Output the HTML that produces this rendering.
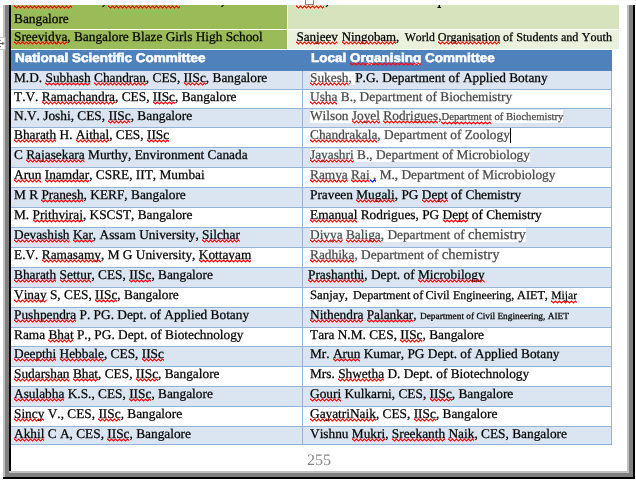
<!DOCTYPE html>
<html><head><meta charset="utf-8"><title>doc</title>
<style>
html,body{margin:0;padding:0;}
body{width:636px;height:483px;background:#fff;overflow:hidden;position:relative;font-family:"Liberation Serif",serif;font-size:13.33px;color:#000;font-kerning:none;font-variant-ligatures:none;text-rendering:geometricPrecision;}
.a{position:absolute;}
#tx{position:absolute;left:0;top:0;width:636px;height:483px;will-change:transform;}
.t{position:absolute;white-space:pre;line-height:16px;height:16px;-webkit-text-stroke:0.25px currentColor;}
.s{position:relative;display:inline-block;line-height:16px;}
.q{position:absolute;left:0;top:12px;width:100%;height:4px;overflow:hidden;}
.w{display:inline-block;line-height:16px;vertical-align:baseline;}
.gq .q{top:12px;}
.g{color:#4a4a4a;}
.hl{background:linear-gradient(#fff,#fff) no-repeat 0 2.2px/100% 13.6px;}
.hl .big{background:linear-gradient(#fff,#fff) no-repeat 0 1.8px/100% 14.8px;}
.hl2{background:none;}
.hl9{background:linear-gradient(#fff,#fff) no-repeat 0 0.9px/100% 14.6px;}
.sm{font-size:10.67px;}
.sm2{font-size:9.33px;}
.big{font-size:14.67px;}
.c9{font-size:12.05px;margin-left:1.5px;}
.cond{letter-spacing:-0.49px;}
.cur{display:inline-block;width:1px;height:15px;background:#000;vertical-align:-4px;}
.h{position:absolute;white-space:pre;font-family:"Liberation Sans",sans-serif;font-weight:bold;color:#fff;font-size:12.6px;line-height:16px;-webkit-text-stroke:0.55px #fff;transform:scaleX(1.0714);transform-origin:0 0;}
</style></head><body>
<svg width="0" height="0" style="position:absolute"><defs>
<pattern id="zr" width="4" height="4" patternUnits="userSpaceOnUse"><path d="M0,0.5h1v1.5h-1z M1,1.2h1v1.5h-1z M2,1.9h1v1.5h-1z M3,1.2h1v1.5h-1z" fill="#f00"/></pattern>
<pattern id="zb" width="4" height="4" patternUnits="userSpaceOnUse"><path d="M0,0.5h1v1.5h-1z M1,1.2h1v1.5h-1z M2,1.9h1v1.5h-1z M3,1.2h1v1.5h-1z" fill="#00f"/></pattern>
</defs></svg>
<div class="a" style="left:3px;top:5px;width:2px;height:473px;background:#c0c0c0"></div>
<div class="a" style="left:5px;top:5px;width:4px;height:472px;background:#808080"></div>
<div class="a" style="left:9px;top:5px;width:2px;height:466px;background:#000"></div>
<div class="a" style="left:627px;top:5px;width:2px;height:468px;background:#c0c0c0"></div>
<div class="a" style="left:629px;top:5px;width:4px;height:472px;background:#808080"></div>
<div class="a" style="left:633px;top:5px;width:2px;height:474px;background:#000"></div>
<div class="a" style="left:9px;top:471px;width:620px;height:2px;background:#c0c0c0"></div>
<div class="a" style="left:5px;top:473px;width:628px;height:4px;background:#808080"></div>
<div class="a" style="left:3px;top:477px;width:632px;height:2px;background:#000"></div>
<svg class="a" style="left:0;top:36px;width:7px;height:15px" viewBox="0 0 7 15"><rect x="-1" y="1.5" width="6" height="12" fill="#fff" stroke="#c4c4c4" stroke-width="1"/><path d="M0,7.5H3.6M2.4,6L3.9,7.5L2.4,9M0,4.4H0.9M0,10.6H0.9" fill="none" stroke="#444" stroke-width="0.9"/></svg>
<div class="a" style="left:11px;top:5px;width:276px;height:24px;background:#9bbb59"></div>
<div class="a" style="left:288px;top:5px;width:331px;height:24px;background:#d6e3bc"></div>
<div class="a" style="left:11px;top:30px;width:276px;height:19px;background:#9bbb59"></div>
<div class="a" style="left:288px;top:30px;width:331px;height:19px;background:#eaf1dd"></div>
<svg class="a" style="left:14px;top:5px;width:58px;height:4px"><rect width="100%" height="100%" fill="url(#zr)"/></svg>
<svg class="a" style="left:108px;top:5px;width:72px;height:4px"><rect width="100%" height="100%" fill="url(#zr)"/></svg>
<svg class="a" style="left:296px;top:5px;width:28px;height:4px"><rect width="100%" height="100%" fill="url(#zr)"/></svg>
<svg class="a" style="left:0;top:5px;width:636px;height:5px" viewBox="0 5 636 5"><g stroke="#111" stroke-width="1.2" fill="none"><path d="M104.6,5.2L102.4,6.7"/><path d="M223.6,5.2L221.4,6.7"/><path d="M328,5.2L325.8,6.7"/></g><path d="M438.5,5h1.6v2h1v0.9h-3.7v-0.9h1.1z" fill="#111"/></svg>
<div class="a" style="left:305px;top:-1px;width:9px;height:6px;background:#fff;box-sizing:border-box;border:1px solid #888"></div>
<div class="a" style="left:11px;top:50px;width:601px;height:21px;background:#4f81bd"></div>
<div class="a" style="left:11px;top:71px;width:601px;height:18px;background:#dbe5f1"></div>
<div class="a" style="left:11px;top:109px;width:601px;height:18px;background:#dbe5f1"></div>
<div class="a" style="left:11px;top:148px;width:601px;height:19px;background:#dbe5f1"></div>
<div class="a" style="left:11px;top:188px;width:601px;height:19px;background:#dbe5f1"></div>
<div class="a" style="left:11px;top:228px;width:601px;height:19px;background:#dbe5f1"></div>
<div class="a" style="left:11px;top:268px;width:601px;height:19px;background:#dbe5f1"></div>
<div class="a" style="left:11px;top:308px;width:601px;height:19px;background:#dbe5f1"></div>
<div class="a" style="left:11px;top:347px;width:601px;height:19px;background:#dbe5f1"></div>
<div class="a" style="left:11px;top:387px;width:601px;height:19px;background:#dbe5f1"></div>
<div class="a" style="left:11px;top:427px;width:601px;height:17px;background:#dbe5f1"></div>
<div class="a" style="left:11px;top:89px;width:601px;height:1px;background:#95b3d7"></div>
<div class="a" style="left:11px;top:108px;width:601px;height:1px;background:#95b3d7"></div>
<div class="a" style="left:11px;top:127px;width:601px;height:1px;background:#95b3d7"></div>
<div class="a" style="left:11px;top:147px;width:601px;height:1px;background:#95b3d7"></div>
<div class="a" style="left:11px;top:167px;width:601px;height:1px;background:#95b3d7"></div>
<div class="a" style="left:11px;top:187px;width:601px;height:1px;background:#95b3d7"></div>
<div class="a" style="left:11px;top:207px;width:601px;height:1px;background:#95b3d7"></div>
<div class="a" style="left:11px;top:227px;width:601px;height:1px;background:#95b3d7"></div>
<div class="a" style="left:11px;top:247px;width:601px;height:1px;background:#95b3d7"></div>
<div class="a" style="left:11px;top:267px;width:601px;height:1px;background:#95b3d7"></div>
<div class="a" style="left:11px;top:287px;width:601px;height:1px;background:#95b3d7"></div>
<div class="a" style="left:11px;top:307px;width:601px;height:1px;background:#95b3d7"></div>
<div class="a" style="left:11px;top:327px;width:601px;height:1px;background:#95b3d7"></div>
<div class="a" style="left:11px;top:346px;width:601px;height:1px;background:#95b3d7"></div>
<div class="a" style="left:11px;top:366px;width:601px;height:1px;background:#95b3d7"></div>
<div class="a" style="left:11px;top:386px;width:601px;height:1px;background:#95b3d7"></div>
<div class="a" style="left:11px;top:406px;width:601px;height:1px;background:#95b3d7"></div>
<div class="a" style="left:11px;top:426px;width:601px;height:1px;background:#95b3d7"></div>
<div class="a" style="left:11px;top:444px;width:601px;height:1px;background:#95b3d7"></div>
<div class="a" style="left:302px;top:71px;width:1px;height:373px;background:#95b3d7"></div>
<div class="a" style="left:611px;top:71px;width:1px;height:374px;background:#95b3d7"></div>
<div id="tx">
<div class="t" style="left:14px;top:11.00px">Bangalore</div>
<div class="t gq" style="left:14px;top:29.00px"><span class="s">Sreevidya<svg class="q"><rect width="100%" height="100%" fill="url(#zr)"/></svg></span>, Bangalore Blaze Girls High School</div>
<div class="t gq" style="left:296.4px;top:29.00px"><span class="w" style="width:45.30px;font-size:13.1px"><span class="s">Sanjeev<svg class="q"><rect width="100%" height="100%" fill="url(#zr)"/></svg></span></span><span class="w" style="width:63.10px;font-size:12.9px"><span class="s">Ningobam<svg class="q"><rect width="100%" height="100%" fill="url(#zr)"/></svg></span>,</span><span class="w" style="width:33.00px;font-size:11.75px">World</span><span class="w" style="width:65.20px;font-size:12.1px"><span class="s">Organisation<svg class="q"><rect width="100%" height="100%" fill="url(#zr)"/></svg></span></span><span class="w" style="width:13.30px;font-size:12.1px">of</span><span class="w" style="width:44.70px;font-size:12.1px">Students</span><span class="w" style="width:20.80px;font-size:12.1px">and</span><span class="w" style="font-size:12.1px">Youth</span></div>
<div class="h" style="left:15px;top:50.00px">National Scientific Committee</div>
<div class="h" style="left:310.5px;top:50.00px">Local <span class="s">Organising<svg class="q"><rect width="100%" height="100%" fill="url(#zr)"/></svg></span> Committee</div>
<div class="t" style="left:14px;top:70.00px">M.D. <span class="s">Subhash<svg class="q"><rect width="100%" height="100%" fill="url(#zr)"/></svg></span> <span class="s">Chandran<svg class="q"><rect width="100%" height="100%" fill="url(#zr)"/></svg></span>, CES, <span class="s">IISc<svg class="q"><rect width="100%" height="100%" fill="url(#zr)"/></svg></span>, Bangalore</div>
<div class="t" style="left:310px;top:70.00px"><span class="g hl"><span class="s">Sukesh<svg class="q"><rect width="100%" height="100%" fill="url(#zr)"/></svg></span>, </span>P.G. Department of Applied Botany</div>
<div class="t" style="left:14px;top:89.00px">T.V. <span class="s">Ramachandra<svg class="q"><rect width="100%" height="100%" fill="url(#zr)"/></svg></span>, CES, <span class="s">IISc<svg class="q"><rect width="100%" height="100%" fill="url(#zr)"/></svg></span>, Bangalore</div>
<div class="t" style="left:310px;top:89.00px"><span class="g"><span class="s">Usha<svg class="q"><rect width="100%" height="100%" fill="url(#zr)"/></svg></span> B., Department of Biochemistry</span></div>
<div class="t" style="left:14px;top:108.00px">N.V. Joshi, CES, <span class="s">IISc<svg class="q"><rect width="100%" height="100%" fill="url(#zr)"/></svg></span>, Bangalore</div>
<div class="t" style="left:310px;top:108.00px"><span class="g hl">Wilson <span class="s">Joyel<svg class="q"><rect width="100%" height="100%" fill="url(#zr)"/></svg></span> <span class="s">Rodrigues<svg class="q"><rect width="100%" height="100%" fill="url(#zr)"/></svg></span>,<span class="sm"><span class="s">Department<svg class="q"><rect width="100%" height="100%" fill="url(#zr)"/></svg></span> of Biochemistry</span></span></div>
<div class="t" style="left:14px;top:127.00px"><span class="s">Bharath<svg class="q"><rect width="100%" height="100%" fill="url(#zr)"/></svg></span> H. <span class="s">Aithal<svg class="q"><rect width="100%" height="100%" fill="url(#zr)"/></svg></span>, CES, <span class="s">IISc<svg class="q"><rect width="100%" height="100%" fill="url(#zr)"/></svg></span></div>
<div class="t" style="left:310px;top:127.00px"><span class="g hl2"><span class="s">Chandrakala<svg class="q"><rect width="100%" height="100%" fill="url(#zr)"/></svg></span>, Department of Zoology</span><span class="cur"></span></div>
<div class="t" style="left:14px;top:147.00px">C <span class="s">Rajasekara<svg class="q"><rect width="100%" height="100%" fill="url(#zr)"/></svg></span> Murthy, Environment Canada</div>
<div class="t" style="left:310px;top:147.00px"><span class="g hl"><span class="s">Jayashri<svg class="q"><rect width="100%" height="100%" fill="url(#zr)"/></svg></span> B., Department of Microbiology</span></div>
<div class="t" style="left:14px;top:167.00px"><span class="s">Arun<svg class="q"><rect width="100%" height="100%" fill="url(#zr)"/></svg></span> <span class="s">Inamdar<svg class="q"><rect width="100%" height="100%" fill="url(#zr)"/></svg></span>, CSRE, IIT, Mumbai</div>
<div class="t" style="left:310px;top:167.00px"><span class="g"><span class="s">Ramya<svg class="q"><rect width="100%" height="100%" fill="url(#zr)"/></svg></span> <span class="s">Rai<svg class="q"><rect width="100%" height="100%" fill="url(#zr)"/></svg></span><span class="s"> ,<svg class="q"><rect width="100%" height="100%" fill="url(#zb)"/></svg></span> M., Department of Microbiology</span></div>
<div class="t" style="left:14px;top:187.00px">M R <span class="s">Pranesh<svg class="q"><rect width="100%" height="100%" fill="url(#zr)"/></svg></span>, KERF, Bangalore</div>
<div class="t" style="left:310px;top:187.00px">Praveen <span class="s">Mugali<svg class="q"><rect width="100%" height="100%" fill="url(#zr)"/></svg></span>, PG <span class="s">Dept<svg class="q"><rect width="100%" height="100%" fill="url(#zr)"/></svg></span> of Chemistry</div>
<div class="t" style="left:14px;top:207.00px">M. <span class="s">Prithviraj<svg class="q"><rect width="100%" height="100%" fill="url(#zr)"/></svg></span>, KSCST, Bangalore</div>
<div class="t" style="left:310px;top:207.00px"><span class="s">Emanual<svg class="q"><rect width="100%" height="100%" fill="url(#zr)"/></svg></span> Rodrigues, PG <span class="s">Dept<svg class="q"><rect width="100%" height="100%" fill="url(#zr)"/></svg></span> of Chemistry</div>
<div class="t" style="left:14px;top:227.00px"><span class="s">Devashish<svg class="q"><rect width="100%" height="100%" fill="url(#zr)"/></svg></span> <span class="s">Kar<svg class="q"><rect width="100%" height="100%" fill="url(#zr)"/></svg></span>, Assam University, <span class="s">Silchar<svg class="q"><rect width="100%" height="100%" fill="url(#zr)"/></svg></span></div>
<div class="t" style="left:310px;top:227.00px"><span class="g hl9"><span class="s">Divya<svg class="q"><rect width="100%" height="100%" fill="url(#zr)"/></svg></span> <span class="s">Baliga<svg class="q"><rect width="100%" height="100%" fill="url(#zr)"/></svg></span>, Department of <span class="big">chemistry</span></span></div>
<div class="t" style="left:14px;top:247.00px">E.V. <span class="s">Ramasamy<svg class="q"><rect width="100%" height="100%" fill="url(#zr)"/></svg></span>, M G University, <span class="s">Kottayam<svg class="q"><rect width="100%" height="100%" fill="url(#zr)"/></svg></span></div>
<div class="t" style="left:310px;top:247.00px"><span class="g"><span class="s">Radhika<svg class="q"><rect width="100%" height="100%" fill="url(#zr)"/></svg></span>, Department of <span class="big">chemistry</span></span></div>
<div class="t" style="left:14px;top:267.00px"><span class="s">Bharath<svg class="q"><rect width="100%" height="100%" fill="url(#zr)"/></svg></span> <span class="s">Settur<svg class="q"><rect width="100%" height="100%" fill="url(#zr)"/></svg></span>, CES, <span class="s">IISc<svg class="q"><rect width="100%" height="100%" fill="url(#zr)"/></svg></span>, Bangalore</div>
<div class="t" style="left:308px;top:267.00px"><span class="s">Prashanthi<svg class="q"><rect width="100%" height="100%" fill="url(#zr)"/></svg></span>, Dept. of <span class="s">Microbilogy<svg class="q"><rect width="100%" height="100%" fill="url(#zr)"/></svg></span></div>
<div class="t" style="left:14px;top:287.00px"><span class="s">Vinay<svg class="q"><rect width="100%" height="100%" fill="url(#zr)"/></svg></span> S, CES, <span class="s">IISc<svg class="q"><rect width="100%" height="100%" fill="url(#zr)"/></svg></span>, Bangalore</div>
<div class="t" style="left:310px;top:287.00px"><span class="w" style="width:43.00px;font-size:12.8px">Sanjay,</span><span class="w" style="width:60.10px;font-size:12.15px">Department</span><span class="w" style="width:12.40px;font-size:12.1px">of</span><span class="w" style="width:27.60px;font-size:12.1px">Civil</span><span class="w" style="width:64.00px;font-size:11.9px">Engineering,</span><span class="w" style="width:34.20px;font-size:12.2px">AIET,</span><span class="w" style="font-size:11.6px"><span class="s">Mijar<svg class="q"><rect width="100%" height="100%" fill="url(#zr)"/></svg></span></span></div>
<div class="t" style="left:14px;top:307.00px"><span class="s">Pushpendra<svg class="q"><rect width="100%" height="100%" fill="url(#zr)"/></svg></span> P. PG. Dept. of Applied Botany</div>
<div class="t" style="left:310px;top:307.00px"><span class="s">Nithendra<svg class="q"><rect width="100%" height="100%" fill="url(#zr)"/></svg></span> <span class="s">Palankar<svg class="q"><rect width="100%" height="100%" fill="url(#zr)"/></svg></span>, <span class="sm2">Department of Civil Engineering, AIET</span></div>
<div class="t" style="left:14px;top:327.00px">Rama <span class="s">Bhat<svg class="q"><rect width="100%" height="100%" fill="url(#zr)"/></svg></span> P., PG. Dept. of Biotechnology</div>
<div class="t" style="left:310px;top:327.00px">Tara N.M. CES, <span class="s">IISc<svg class="q"><rect width="100%" height="100%" fill="url(#zr)"/></svg></span>, Bangalore</div>
<div class="t" style="left:14px;top:346.00px"><span class="s">Deepthi<svg class="q"><rect width="100%" height="100%" fill="url(#zr)"/></svg></span> <span class="s">Hebbale<svg class="q"><rect width="100%" height="100%" fill="url(#zr)"/></svg></span>, CES, <span class="s">IISc<svg class="q"><rect width="100%" height="100%" fill="url(#zr)"/></svg></span></div>
<div class="t" style="left:310px;top:346.00px">Mr. <span class="s">Arun<svg class="q"><rect width="100%" height="100%" fill="url(#zr)"/></svg></span> Kumar, PG Dept. of Applied Botany</div>
<div class="t" style="left:14px;top:366.00px"><span class="s">Sudarshan<svg class="q"><rect width="100%" height="100%" fill="url(#zr)"/></svg></span> <span class="s">Bhat<svg class="q"><rect width="100%" height="100%" fill="url(#zr)"/></svg></span>, CES, <span class="s">IISc<svg class="q"><rect width="100%" height="100%" fill="url(#zr)"/></svg></span>, Bangalore</div>
<div class="t" style="left:310px;top:366.00px">Mrs. <span class="s">Shwetha<svg class="q"><rect width="100%" height="100%" fill="url(#zr)"/></svg></span> D. Dept. of Biotechnology</div>
<div class="t" style="left:14px;top:386.00px"><span class="s">Asulabha<svg class="q"><rect width="100%" height="100%" fill="url(#zr)"/></svg></span> K.S., CES, <span class="s">IISc<svg class="q"><rect width="100%" height="100%" fill="url(#zr)"/></svg></span>, Bangalore</div>
<div class="t" style="left:310px;top:386.00px"><span class="s">Gouri<svg class="q"><rect width="100%" height="100%" fill="url(#zr)"/></svg></span> Kulkarni, CES, <span class="s">IISc<svg class="q"><rect width="100%" height="100%" fill="url(#zr)"/></svg></span>, Bangalore</div>
<div class="t" style="left:14px;top:406.00px"><span class="s">Sincy<svg class="q"><rect width="100%" height="100%" fill="url(#zr)"/></svg></span> V., CES, <span class="s">IISc<svg class="q"><rect width="100%" height="100%" fill="url(#zr)"/></svg></span>, Bangalore</div>
<div class="t" style="left:310px;top:406.00px"><span class="s">GayatriNaik<svg class="q"><rect width="100%" height="100%" fill="url(#zr)"/></svg></span>, CES, <span class="s">IISc<svg class="q"><rect width="100%" height="100%" fill="url(#zr)"/></svg></span>, Bangalore</div>
<div class="t" style="left:14px;top:426.00px"><span class="s">Akhil<svg class="q"><rect width="100%" height="100%" fill="url(#zr)"/></svg></span> C A, CES, <span class="s">IISc<svg class="q"><rect width="100%" height="100%" fill="url(#zr)"/></svg></span>, Bangalore</div>
<div class="t" style="left:310px;top:426.00px">Vishnu <span class="s">Mukri<svg class="q"><rect width="100%" height="100%" fill="url(#zr)"/></svg></span>, <span class="s">Sreekanth<svg class="q"><rect width="100%" height="100%" fill="url(#zr)"/></svg></span> <span class="s">Naik<svg class="q"><rect width="100%" height="100%" fill="url(#zr)"/></svg></span>, CES, Bangalore</div>
<div class="t" style="left:307px;top:452.00px;font-size:16px;color:#858585;line-height:18px;-webkit-text-stroke:0">255</div>
</div>
</body></html>
